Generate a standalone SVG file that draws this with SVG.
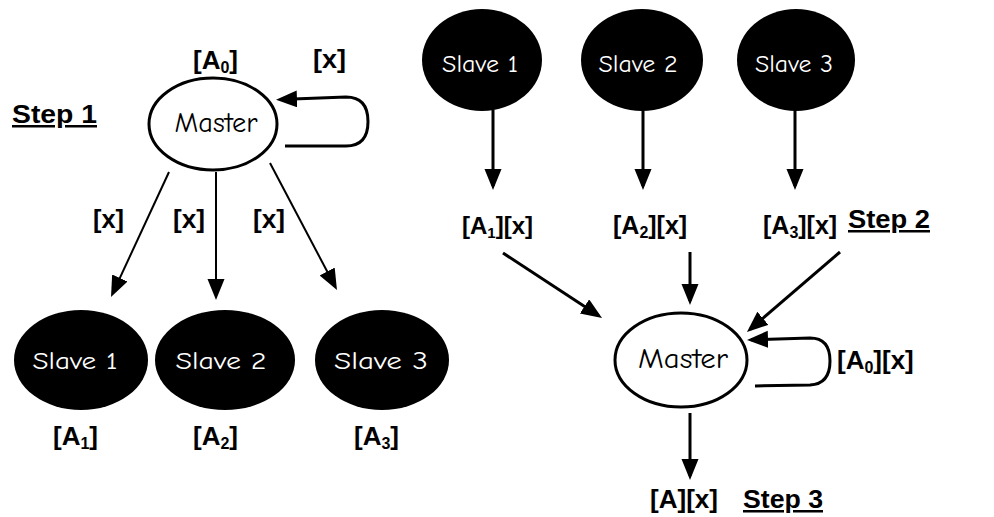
<svg xmlns="http://www.w3.org/2000/svg" width="994" height="517" viewBox="0 0 994 517">
  <style>
    .lbl { font-family: "Liberation Sans", Arial, sans-serif; font-weight: bold; font-size: 26px; fill: #000; }
    .step { font-family: "Liberation Sans", Arial, sans-serif; font-weight: bold; font-size: 25px; fill: #000; text-decoration: underline; }
    .sub { font-size: 16px; }
    .hand { font-family: "Comic Sans MS", "Comic Neue", "DejaVu Sans", sans-serif; font-size: 25px; }
    .master ellipse { fill: #fff; stroke: #000; stroke-width: 3; }
    .master text { fill: #000; font-size: 29px; }
    .slave ellipse { fill: #000; stroke: none; }
    .slave text { fill: #fff; }
    .thin { fill: none; stroke: #000; stroke-width: 2; }
    .bold { fill: none; stroke: #000; stroke-width: 3; }
  </style>
  <defs>
    <marker id="head" markerUnits="userSpaceOnUse" markerWidth="22" markerHeight="18" refX="17" refY="8.5" orient="auto">
      <path d="M0,0 L21,8.5 L0,17 z" fill="#000"/>
    </marker>
  </defs>

  <rect width="994" height="517" fill="#fff"/>

  <!-- Step 1: master sends x to every slave -->
  <text class="step" x="12" y="123" textLength="85" lengthAdjust="spacingAndGlyphs">Step 1</text>

  <g id="master1" class="master">
    <ellipse cx="213" cy="124" rx="64" ry="46"/>
    <text class="hand" x="216" y="132" text-anchor="middle" textLength="83" lengthAdjust="spacingAndGlyphs">Master</text>
  </g>
  <text class="lbl" x="193" y="69">[A<tspan class="sub" dy="4">0</tspan><tspan dy="-4">]</tspan></text>
  <text class="lbl" x="313" y="68" textLength="33" lengthAdjust="spacingAndGlyphs">[x]</text>

  <g id="slave1a" class="slave">
    <ellipse cx="81" cy="360" rx="67" ry="50"/>
    <text class="hand" x="75" y="369" text-anchor="middle" textLength="85" lengthAdjust="spacingAndGlyphs">Slave 1</text>
  </g>
  <g id="slave2a" class="slave">
    <ellipse cx="225" cy="360" rx="70" ry="50"/>
    <text class="hand" x="221" y="369" text-anchor="middle" textLength="91" lengthAdjust="spacingAndGlyphs">Slave 2</text>
  </g>
  <g id="slave3a" class="slave">
    <ellipse cx="382" cy="360" rx="67" ry="50"/>
    <text class="hand" x="381" y="369" text-anchor="middle" textLength="94" lengthAdjust="spacingAndGlyphs">Slave 3</text>
  </g>

  <text class="lbl" x="53" y="445">[A<tspan class="sub" dy="4">1</tspan><tspan dy="-4">]</tspan></text>
  <text class="lbl" x="193" y="445">[A<tspan class="sub" dy="4">2</tspan><tspan dy="-4">]</tspan></text>
  <text class="lbl" x="354" y="445">[A<tspan class="sub" dy="4">3</tspan><tspan dy="-4">]</tspan></text>

  <text class="lbl" x="93" y="228" textLength="31" lengthAdjust="spacingAndGlyphs">[x]</text>
  <text class="lbl" x="173" y="228" textLength="32" lengthAdjust="spacingAndGlyphs">[x]</text>
  <text class="lbl" x="253" y="228" textLength="32" lengthAdjust="spacingAndGlyphs">[x]</text>

  <!-- Step 2: slaves return their partial results -->
  <g id="slave1b" class="slave">
    <ellipse cx="482" cy="60" rx="60" ry="51"/>
    <text class="hand" x="480" y="72" text-anchor="middle" textLength="76" lengthAdjust="spacingAndGlyphs">Slave 1</text>
  </g>
  <g id="slave2b" class="slave">
    <ellipse cx="642" cy="60" rx="61" ry="51"/>
    <text class="hand" x="638" y="72" text-anchor="middle" textLength="79" lengthAdjust="spacingAndGlyphs">Slave 2</text>
  </g>
  <g id="slave3b" class="slave">
    <ellipse cx="796" cy="60" rx="59" ry="51"/>
    <text class="hand" x="794" y="72" text-anchor="middle" textLength="78" lengthAdjust="spacingAndGlyphs">Slave 3</text>
  </g>

  <text class="lbl" x="462" y="234" style="font-size:24px">[A<tspan class="sub" dy="4" style="font-size:15px">1</tspan><tspan dy="-4">][x]</tspan></text>
  <text class="lbl" x="613" y="234" style="font-size:25px">[A<tspan class="sub" dy="4">2</tspan><tspan dy="-4">][x]</tspan></text>
  <text class="lbl" x="763" y="234" style="font-size:25px">[A<tspan class="sub" dy="4">3</tspan><tspan dy="-4">][x]</tspan></text>
  <text class="step" x="848" y="228" textLength="82" lengthAdjust="spacingAndGlyphs">Step 2</text>

  <g id="master2" class="master">
    <ellipse cx="681" cy="360" rx="66" ry="47"/>
    <text class="hand" x="683" y="368" text-anchor="middle" textLength="90" lengthAdjust="spacingAndGlyphs">Master</text>
  </g>
  <text class="lbl" x="837" y="369">[A<tspan class="sub" dy="4">0</tspan><tspan dy="-4">][x]</tspan></text>

  <!-- Step 3: master combines everything -->
  <text class="lbl" x="650" y="508" textLength="68" lengthAdjust="spacingAndGlyphs">[A][x]</text>
  <text class="step" x="743" y="508" textLength="80" lengthAdjust="spacingAndGlyphs">Step 3</text>

  <g id="connectors">
    <!-- master to slaves -->
    <line class="thin" x1="169" y1="172" x2="112.7" y2="293.4" marker-end="url(#head)"/>
    <line class="thin" x1="216" y1="172" x2="216" y2="296" marker-end="url(#head)"/>
    <line class="thin" x1="270" y1="163" x2="335.1" y2="286.5" marker-end="url(#head)"/>
    <path class="bold" d="M285,146 L346,146 Q368,146 368,121.5 Q368,97 346,97 L280,99.6" marker-end="url(#head)"/>

    <!-- slaves to partial results -->
    <line class="bold" x1="493" y1="110" x2="493" y2="186" marker-end="url(#head)"/>
    <line class="bold" x1="643" y1="110" x2="643" y2="186" marker-end="url(#head)"/>
    <line class="bold" x1="795" y1="110" x2="795" y2="186" marker-end="url(#head)"/>

    <!-- partial results to master -->
    <line class="bold" x1="503" y1="253" x2="598.7" y2="315.8" marker-end="url(#head)"/>
    <line class="bold" x1="690" y1="252" x2="690" y2="301" marker-end="url(#head)"/>
    <line class="bold" x1="840" y1="252" x2="750" y2="329.4" marker-end="url(#head)"/>
    <path class="bold" d="M755,386 L810,385 Q830,384 830,361 Q830,338 810,338 L751,339.8" marker-end="url(#head)"/>

    <!-- master to final result -->
    <line class="bold" x1="690" y1="413" x2="690" y2="476" marker-end="url(#head)"/>
  </g>
</svg>
